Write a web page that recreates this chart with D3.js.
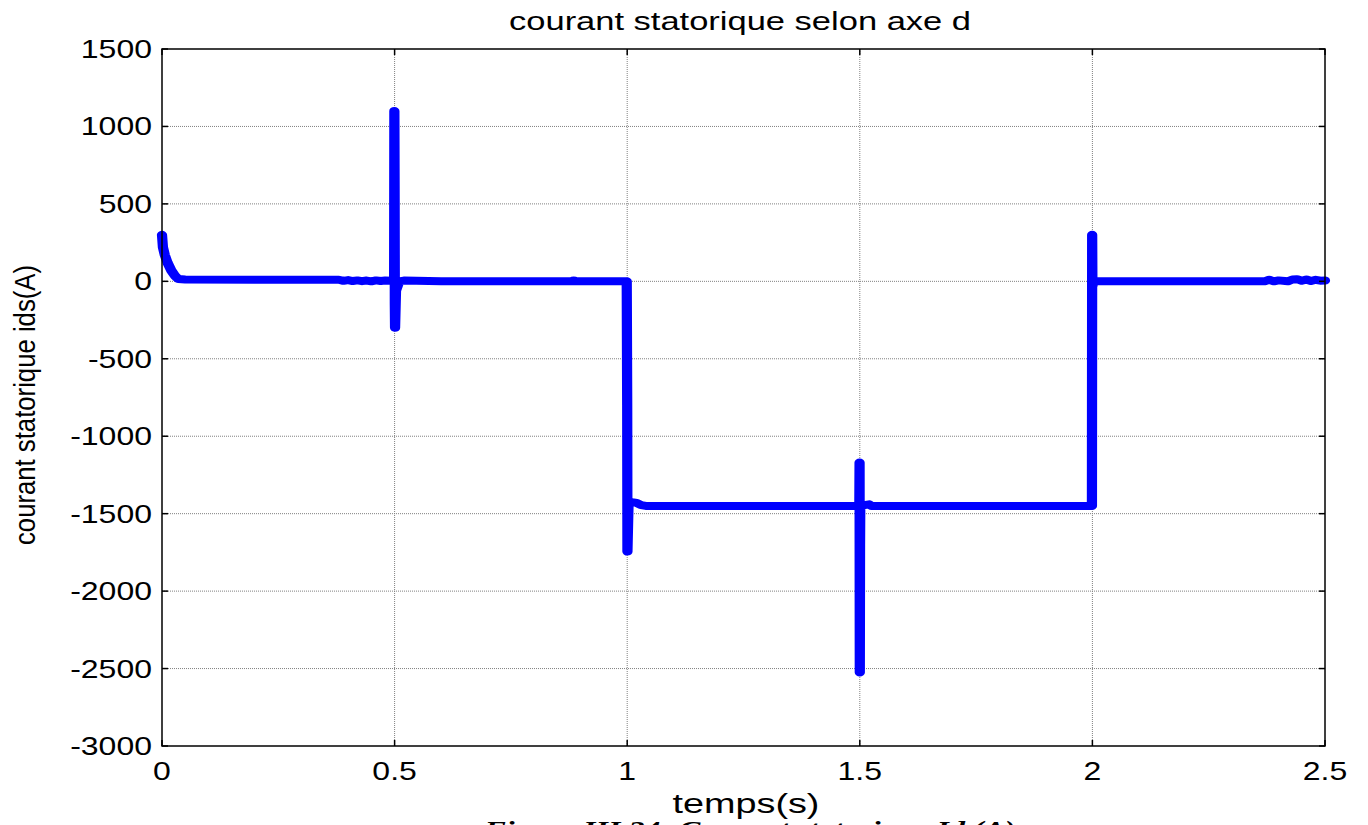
<!DOCTYPE html>
<html>
<head>
<meta charset="utf-8">
<script src="https://cdn.jsdelivr.net/npm/d3@7"></script>
<style>
  body { margin: 0; background: #fff; }
  svg { display: block; }
</style>
</head>
<body>
<div id="chart"></div>
<script>
// time (s) and ids (A)
const temps = [0, 0.002, 0.006, 0.012, 0.02, 0.028, 0.035, 0.05, 0.2, 0.38,
  0.39, 0.40, 0.41, 0.42, 0.43, 0.44, 0.45, 0.46, 0.47, 0.48, 0.495,
  0.499, 0.4995, 0.5, 0.5005, 0.501, 0.503, 0.51, 0.52, 0.6, 0.88, 0.885, 0.89, 0.9,
  0.998, 0.999, 1.0, 1.0005, 1.003, 1.01, 1.02, 1.03, 1.04, 1.3,
  1.498, 1.499, 1.4995, 1.5, 1.5005, 1.501, 1.51, 1.52, 1.525, 1.535, 1.8,
  1.999, 1.9995, 2.0, 2.0005, 2.001, 2.005, 2.01, 2.2, 2.37,
  2.38, 2.39, 2.40, 2.42, 2.43, 2.44, 2.45, 2.46, 2.47, 2.48, 2.49, 2.5];
const ids = [300, 220, 170, 120, 70, 35, 15, 12, 10, 10,
  3, 8, 2, 6, 1, 5, 0, 6, 2, 5, 4,
  0, 1100, 600, -150, -300, -60, 0, 5, 0, 0, 6, 0, 0,
  0, 0, -800, -1745, -1420, -1425, -1430, -1445, -1450, -1450,
  -1450, -1450, -1170, -2525, -1700, -1450, -1445, -1440, -1450, -1450, -1450,
  -1450, 300, -30, -20, -15, -5, 0, 0, 0,
  10, 0, 6, 0, 12, 14, 4, 12, 2, 10, 4, 5];

const xTicks = [0, 0.5, 1, 1.5, 2, 2.5];
const yTicks = [1500, 1000, 500, 0, -500, -1000, -1500, -2000, -2500, -3000];

const titleText = 'courant statorique selon axe d';
const xLabel = 'temps(s)';
const yLabel = 'courant statorique ids(A)';
const caption = 'Figure III.24: Courant statorique Id (A)';

const W = 1368, H = 825;
const SX = 1.28; // the source image is stretched horizontally
const margin = {left: 162, top: 49, right: 43, bottom: 79};
const pw = W - margin.left - margin.right;
const ph = H - margin.top - margin.bottom;

const svg = d3.select('#chart').append('svg')
  .attr('width', W).attr('height', H)
  .style('font-family', 'Arial, "Liberation Sans", sans-serif');

const x = d3.scaleLinear().domain([0, 2.5]).range([0, pw]);
const y = d3.scaleLinear().domain([-3000, 1500]).range([ph, 0]);

const g = svg.append('g').attr('transform', `translate(${margin.left},${margin.top})`);

// grid
g.selectAll('.gx').data(xTicks.slice(1, -1)).enter().append('line')
  .attr('x1', d => x(d)).attr('x2', d => x(d)).attr('y1', 0).attr('y2', ph)
  .attr('stroke', '#808080').attr('stroke-width', 1).attr('stroke-dasharray', '1,1');
g.selectAll('.gy').data(yTicks.slice(1, -1)).enter().append('line')
  .attr('y1', d => y(d)).attr('y2', d => y(d)).attr('x1', 0).attr('x2', pw)
  .attr('stroke', '#808080').attr('stroke-width', 1).attr('stroke-dasharray', '1,1');

// signal (drawn in a horizontally stretched group like the source)
const xs = x.copy().range([0, pw / SX]);
const line = d3.line().x((d, i) => xs(temps[i])).y(d => y(d));
g.append('g').attr('transform', `scale(${SX},1)`)
  .append('path').datum(ids)
  .attr('d', line)
  .attr('fill', 'none')
  .attr('stroke', '#0000ff')
  .attr('stroke-width', 8)
  .attr('stroke-linejoin', 'round')
  .attr('stroke-linecap', 'round');

// box
g.append('rect').attr('width', pw).attr('height', ph)
  .attr('fill', 'none').attr('stroke', '#000').attr('stroke-width', 1.5);

// ticks inside, on all four sides
const tl = 6;
xTicks.forEach(t => {
  g.append('line').attr('x1', x(t)).attr('x2', x(t)).attr('y1', ph).attr('y2', ph - tl).attr('stroke', '#000').attr('stroke-width', 1.5);
  g.append('line').attr('x1', x(t)).attr('x2', x(t)).attr('y1', 0).attr('y2', tl).attr('stroke', '#000').attr('stroke-width', 1.5);
});
yTicks.forEach(t => {
  g.append('line').attr('x1', 0).attr('x2', tl).attr('y1', y(t)).attr('y2', y(t)).attr('stroke', '#000').attr('stroke-width', 1.5);
  g.append('line').attr('x1', pw).attr('x2', pw - tl).attr('y1', y(t)).attr('y2', y(t)).attr('stroke', '#000').attr('stroke-width', 1.5);
});

// stretched text helper
function stext(parent, px, py, str, size, anchor, sx) {
  return parent.append('text')
    .attr('transform', `translate(${px},${py}) scale(${sx || SX},1)`)
    .attr('text-anchor', anchor).attr('font-size', size).attr('fill', '#000')
    .text(str);
}

// tick labels
xTicks.forEach(d => stext(g, x(d), ph + 34, d3.format('')(d), 25, 'middle'));
yTicks.forEach(d => stext(g, -10, y(d) + 9, d, 25, 'end'));

// title and axis labels
stext(svg, 740, 30, titleText, 25, 'middle', 1.38);
stext(svg, 746, 813, xLabel, 27, 'middle', 1.4);
svg.append('text')
  .attr('transform', `translate(35,405) scale(${SX},1) rotate(-90)`)
  .attr('text-anchor', 'middle').attr('font-size', 23)
  .attr('textLength', 280).attr('lengthAdjust', 'spacingAndGlyphs')
  .text(yLabel);

// figure caption below the chart, cut by the bottom edge
svg.append('text')
  .attr('transform', `translate(750,837) scale(1.36,1)`)
  .attr('text-anchor', 'middle').attr('font-size', 23.5)
  .attr('font-family', '"Liberation Serif", "Times New Roman", serif')
  .attr('font-weight', 'bold').attr('font-style', 'italic')
  .text(caption);
</script>
</body>
</html>
